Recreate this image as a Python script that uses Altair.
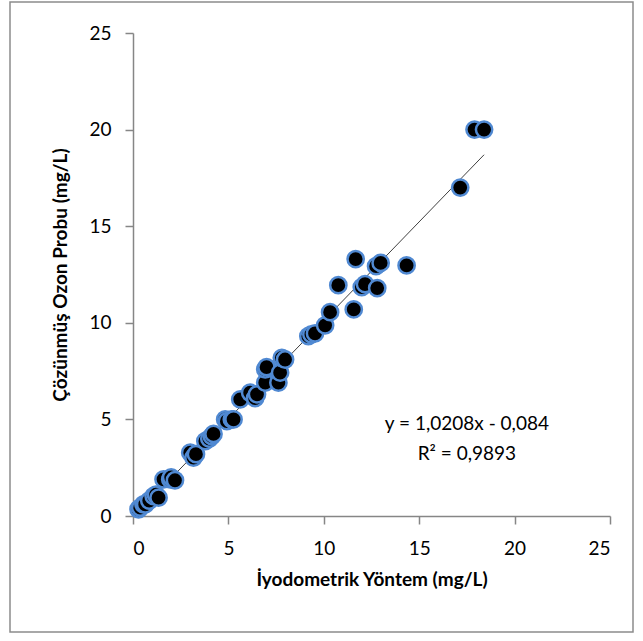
import altair as alt
import pandas as pd

# Iodometric reference method vs dissolved-ozone probe readings (mg/L)
iyodometrik = [0.29, 0.38, 0.55, 0.64, 0.85, 1.08, 1.20, 1.34, 1.60, 1.95,
               2.00, 2.20, 3.00, 3.17, 3.30, 3.79, 4.00, 4.13, 4.22, 4.83,
               4.92, 5.18, 5.27, 5.62, 6.14, 6.40, 6.50, 6.93, 6.93, 7.00,
               7.62, 7.71, 7.80, 7.97, 9.19, 9.35, 9.54, 10.07, 10.33, 10.76,
               11.57, 11.67, 11.99, 12.16, 12.74, 12.80, 12.98, 14.34, 17.15,
               17.90, 18.40]
ozon_probu = [0.35, 0.43, 0.60, 0.60, 0.80, 1.03, 1.10, 0.95, 1.90, 1.90,
              2.00, 1.85, 3.28, 3.02, 3.20, 3.88, 4.00, 4.14, 4.25, 5.00,
              4.91, 5.00, 5.00, 6.04, 6.38, 6.10, 6.30, 6.90, 7.59, 7.70,
              6.90, 7.42, 8.19, 8.10, 9.31, 9.40, 9.45, 9.87, 10.55, 11.95,
              10.69, 13.30, 11.85, 12.00, 12.93, 11.80, 13.10, 12.97, 17.00,
              20.00, 20.00]

# Linear trendline
slope = 1.0208
intercept = -0.084
r_squared = 0.9893

FONT = "Lato"
W, H = 477, 483
LEFT, TOP = 133, 33

points = pd.DataFrame({"x": iyodometrik, "y": ozon_probu})
x0, x1 = min(iyodometrik), max(iyodometrik)
trend = pd.DataFrame({"x": [x0, x1], "y": [slope * x0 + intercept, slope * x1 + intercept]})

eq_text = "y = {}x - {}".format(f"{slope:.4f}".replace(".", ","),
                                 f"{abs(intercept):.3f}".replace(".", ","))
r2_text = "R² = {}".format(f"{r_squared:.4f}".replace(".", ","))
labels = pd.DataFrame({"x": [17.5, 17.5], "y": [4.74, 3.19], "t": [eq_text, r2_text]})

xscale = alt.Scale(domain=[0, 25], nice=False, zero=True)
yscale = alt.Scale(domain=[0, 25], nice=False, zero=True)

axis_common = dict(
    grid=False, domainColor="#868686", domainWidth=1.5, tickColor="#868686",
    tickWidth=1.5, tickSize=8, labelFont=FONT, labelFontSize=19,
    labelColor="#000000", titleFont=FONT, titleFontSize=19,
    titleFontWeight="bold", titleColor="#000000", values=[0, 5, 10, 15, 20, 25],
)

x_enc = alt.X("x:Q", scale=xscale,
              axis=alt.Axis(title="İyodometrik Yöntem (mg/L)", labelPadding=15,
                            titlePadding=12, **axis_common))
y_enc = alt.Y("y:Q", scale=yscale,
              axis=alt.Axis(title="Çözünmüş Ozon Probu (mg/L)", labelPadding=14,
                            titlePadding=18, **axis_common))

frame = alt.Chart(pd.DataFrame({"k": [0]})).mark_rect(
    fill=None, stroke="#8c8c8c", strokeWidth=1.5, clip=False
).encode(
    x=alt.value(10 - LEFT), x2=alt.value(633 - LEFT),
    y=alt.value(2 - TOP), y2=alt.value(632 - TOP),
)

line = alt.Chart(trend).mark_line(color="#404040", strokeWidth=1).encode(
    x=x_enc, y=y_enc
)

dots = alt.Chart(points).mark_point(
    shape="circle", filled=True, fill="#000000", stroke="#5089d2",
    strokeWidth=2.5, size=265, opacity=1
).encode(x="x:Q", y="y:Q")

text = alt.Chart(labels).mark_text(
    font=FONT, fontSize=19, color="#000000", align="center", baseline="middle"
).encode(x="x:Q", y="y:Q", text="t:N")

chart = alt.layer(frame, line, dots, text).properties(
    width=W, height=H,
    autosize=alt.AutoSizeParams(type="none"),
    padding={"left": LEFT, "top": TOP, "right": 643 - LEFT - W, "bottom": 641 - TOP - H},
    background="#ffffff",
).configure_view(stroke=None)

chart.save("out.html", embed_options={"renderer": "svg", "actions": False})
